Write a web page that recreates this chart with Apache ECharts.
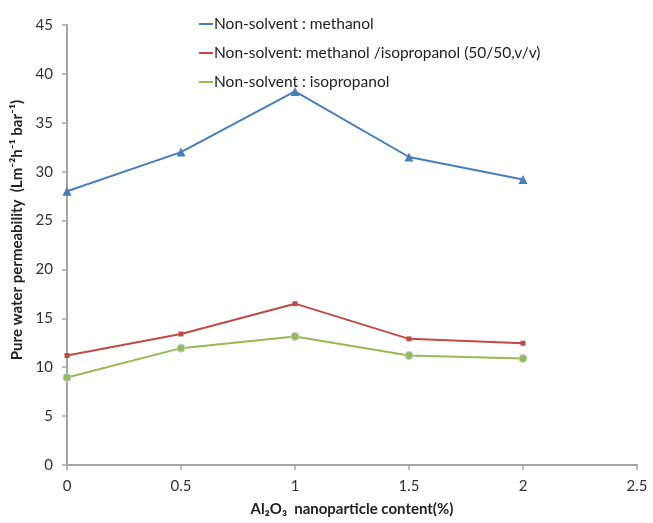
<!DOCTYPE html>
<html>
<head>
<meta charset="utf-8">
<script src="https://cdn.jsdelivr.net/npm/echarts@6/dist/echarts.min.js"></script>
<style>
    html, body { margin: 0; padding: 0; background: #fff; }
    #chart { width: 653px; height: 523px; }
</style>
</head>
<body>
<div id="chart"></div>
<script>
// Al2O3 content (%) and pure water permeability values
var xContent = [0, 0.5, 1, 1.5, 2];
var methanol = [28.0, 32.0, 38.2, 31.5, 29.2];
var mixed = [11.2, 13.4, 16.5, 12.9, 12.45];
var isopropanol = [8.95, 11.95, 13.15, 11.2, 10.9];
var seriesNames = [
    'Non-solvent : methanol',
    'Non-solvent: methanol /isopropanol (50/50,v/v)',
    'Non-solvent : isopropanol'
];

function pairs(ys) {
    var out = [];
    for (var i = 0; i < xContent.length; i++) {
        out.push([xContent[i], ys[i]]);
    }
    return out;
}

var font = 'Lato, "Liberation Sans", sans-serif';
var axisGray = '#a6a6a6';

var myChart = echarts.init(document.getElementById('chart'));
var option = {
    animation: false,
    textStyle: { fontFamily: font },
    legend: {
        orient: 'vertical',
        left: 194,
        top: 11,
        itemGap: 13,
        itemWidth: 14,
        itemHeight: 2,
        icon: 'rect',
        itemStyle: { borderWidth: 0 },
        textStyle: { fontSize: 15.5, color: '#222', fontFamily: font, padding: [0, 0, 0, -4] },
        data: seriesNames
    },
    grid: {
        left: 67,
        right: 16,
        top: 25,
        bottom: 58,
        outerBoundsMode: 'none'
    },
    xAxis: {
        type: 'value',
        min: 0,
        max: 2.5,
        interval: 0.5,
        name: 'Al\u2082O\u2083  nanoparticle content(%)',
        nameLocation: 'middle',
        nameGap: 37,
        nameTextStyle: { fontSize: 15, fontWeight: 'bold', color: '#222', fontFamily: font },
        axisLine: { lineStyle: { color: axisGray, width: 2 } },
        axisTick: { show: true, length: 5, lineStyle: { color: axisGray, width: 1.5 } },
        axisLabel: { fontSize: 15, color: '#333', margin: 14 },
        splitLine: { show: false }
    },
    yAxis: {
        type: 'value',
        min: 0,
        max: 45,
        interval: 5,
        name: 'Pure water permeability  (Lm\u207B\u00B2h\u207B\u00B9 bar\u207B\u00B9)',
        nameLocation: 'middle',
        nameGap: 42,
        nameTextStyle: { fontSize: 15, fontWeight: 'bold', color: '#222', fontFamily: font, padding: [0, 0, 0, 30] },
        axisLine: { show: true, lineStyle: { color: axisGray, width: 2 } },
        axisTick: { show: true, length: 5, lineStyle: { color: axisGray, width: 1.5 } },
        axisLabel: { fontSize: 15, color: '#333', margin: 14 },
        splitLine: { show: false }
    },
    series: [{
            name: seriesNames[0],
            type: 'line',
            data: pairs(methanol),
            symbol: 'triangle',
            symbolSize: 9,
            lineStyle: { color: '#4a7ebb', width: 2 },
            itemStyle: { color: '#4a7ebb' }
        },
        {
            name: seriesNames[1],
            type: 'line',
            data: pairs(mixed),
            symbol: 'rect',
            symbolSize: 5,
            lineStyle: { color: '#be4b48', width: 2 },
            itemStyle: { color: '#be4b48' }
        },
        {
            name: seriesNames[2],
            type: 'line',
            data: pairs(isopropanol),
            symbol: 'circle',
            symbolSize: 8,
            lineStyle: { color: '#98b954', width: 2 },
            itemStyle: { color: '#98b954', borderColor: '#b9cde5', borderWidth: 1 }
        }
    ]
};
myChart.setOption(option);
</script>
</body>
</html>
